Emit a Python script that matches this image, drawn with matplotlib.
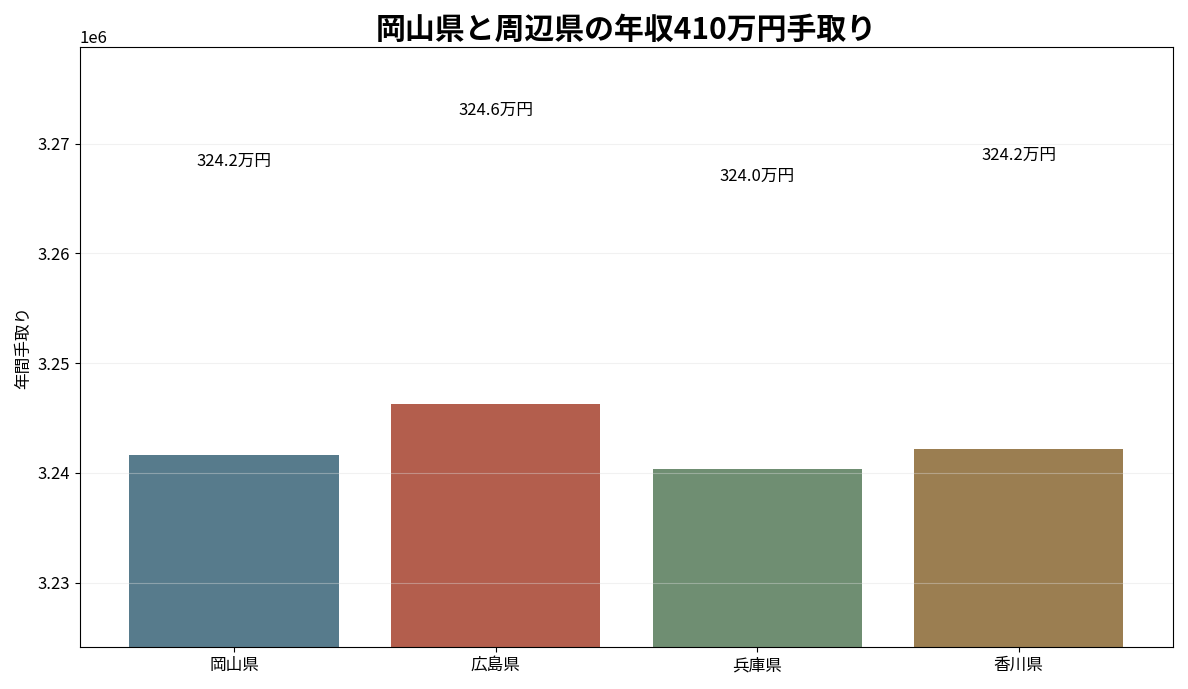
import matplotlib
matplotlib.use("Agg")
import matplotlib.pyplot as plt

plt.rcParams["font.family"] = ["Noto Sans CJK JP", "DejaVu Sans"]

# 県名と年間手取り額(円)
prefs = ["岡山県", "広島県", "兵庫県", "香川県"]
takehome = [3241600, 3246300, 3240300, 3242200]
colors = ["#577B8C", "#B35E4D", "#6F8E72", "#9B7E51"]

fig, ax = plt.subplots(figsize=(11.88, 6.89), dpi=100)
bars = ax.bar(prefs, takehome, color=colors)
ax.grid(axis="y", color="#dddddd", alpha=0.4)

top = max(takehome)
for b, v in zip(bars, takehome):
    ax.text(b.get_x() + b.get_width() / 2, v + top * 0.008,
            f"{v / 10000:.1f}万円", ha="center", va="bottom", fontsize=12)

ax.set_ylim(min(takehome) * 0.995, top * 1.01)
ax.set_ylabel("年間手取り", fontsize=12)
ax.set_title("岡山県と周辺県の年収410万円手取り", fontsize=21.5, fontweight="bold")
ax.tick_params(labelsize=12)
ax.yaxis.get_offset_text().set_fontsize(12)

fig.tight_layout()
fig.savefig("out.png", dpi=100)
